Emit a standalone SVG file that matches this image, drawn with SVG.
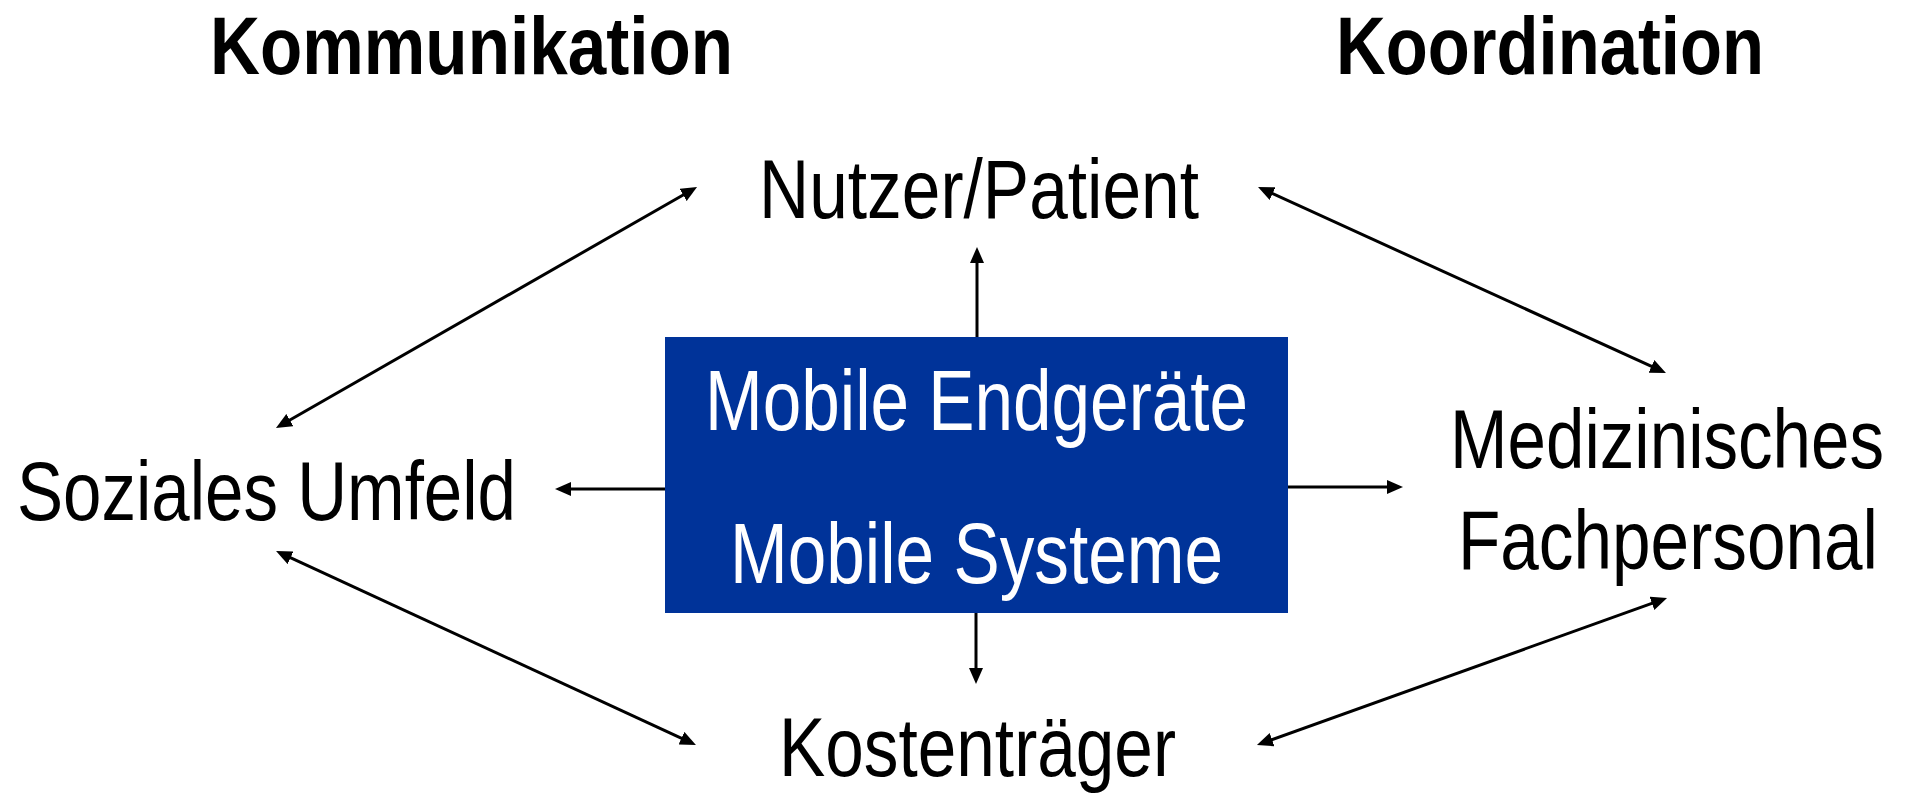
<svg xmlns="http://www.w3.org/2000/svg" width="1905" height="794" viewBox="0 0 1905 794">
<style>
.lbl{font-family:"Liberation Sans",Arial,sans-serif;font-size:84px;fill:#000}
.hdr{font-family:"Liberation Sans",Arial,sans-serif;font-size:82px;font-weight:bold;fill:#000}
.box{fill:#003399}
.boxt{font-family:"Liberation Sans",Arial,sans-serif;font-size:85px;fill:#fff}
.con{stroke:#000;stroke-width:3;fill:none}
</style>
<defs>
<marker id="ah" viewBox="0 0 16 14" markerWidth="16" markerHeight="14" refX="8" refY="7" markerUnits="userSpaceOnUse" orient="auto-start-reverse">
<path d="M0,0 L16,7 L0,14 z" fill="#000"/>
</marker>
</defs>
<rect width="1905" height="794" fill="#fff"/>
<g id="headers">
<text class="hdr" x="210" y="74" textLength="523" lengthAdjust="spacingAndGlyphs">Kommunikation</text>
<text class="hdr" x="1336" y="74" textLength="428" lengthAdjust="spacingAndGlyphs">Koordination</text>
</g>
<g id="connectors">
<line class="con" x1="282.9" y1="424" x2="690.1" y2="191" marker-start="url(#ah)" marker-end="url(#ah)"/>
<line class="con" x1="1265.3" y1="190.3" x2="1658.7" y2="369.7" marker-start="url(#ah)" marker-end="url(#ah)"/>
<line class="con" x1="283.3" y1="554.4" x2="688.7" y2="741.6" marker-start="url(#ah)" marker-end="url(#ah)"/>
<line class="con" x1="1264.5" y1="742.3" x2="1659.5" y2="600.7" marker-start="url(#ah)" marker-end="url(#ah)"/>
<line class="con" x1="977" y1="337" x2="977" y2="255" marker-end="url(#ah)"/>
<line class="con" x1="976" y1="612" x2="976" y2="676" marker-end="url(#ah)"/>
<line class="con" x1="665" y1="489" x2="563" y2="489" marker-end="url(#ah)"/>
<line class="con" x1="1288" y1="487" x2="1395" y2="487" marker-end="url(#ah)"/>
</g>
<g id="center">
<rect class="box" x="665" y="337" width="623" height="276"/>
<text class="boxt" x="705" y="430" textLength="543" lengthAdjust="spacingAndGlyphs">Mobile Endgeräte</text>
<text class="boxt" x="730" y="583" textLength="493" lengthAdjust="spacingAndGlyphs">Mobile Systeme</text>
</g>
<g id="nutzer">
<text class="lbl" x="759" y="218" textLength="440" lengthAdjust="spacingAndGlyphs">Nutzer/Patient</text>
</g>
<g id="sozial">
<text class="lbl" x="17" y="520" textLength="499" lengthAdjust="spacingAndGlyphs">Soziales Umfeld</text>
</g>
<g id="medizin" transform="scale(0.82,1)">
<text class="lbl" x="1768.3" y="468" textLength="529.3" lengthAdjust="spacingAndGlyphs">Medizinisches</text>
<text class="lbl" x="1778" y="569" textLength="512.2" lengthAdjust="spacingAndGlyphs">Fachpersonal</text>
</g>
<g id="kosten">
<text class="lbl" x="779" y="776" textLength="397" lengthAdjust="spacingAndGlyphs">Kostenträger</text>
</g>
</svg>
